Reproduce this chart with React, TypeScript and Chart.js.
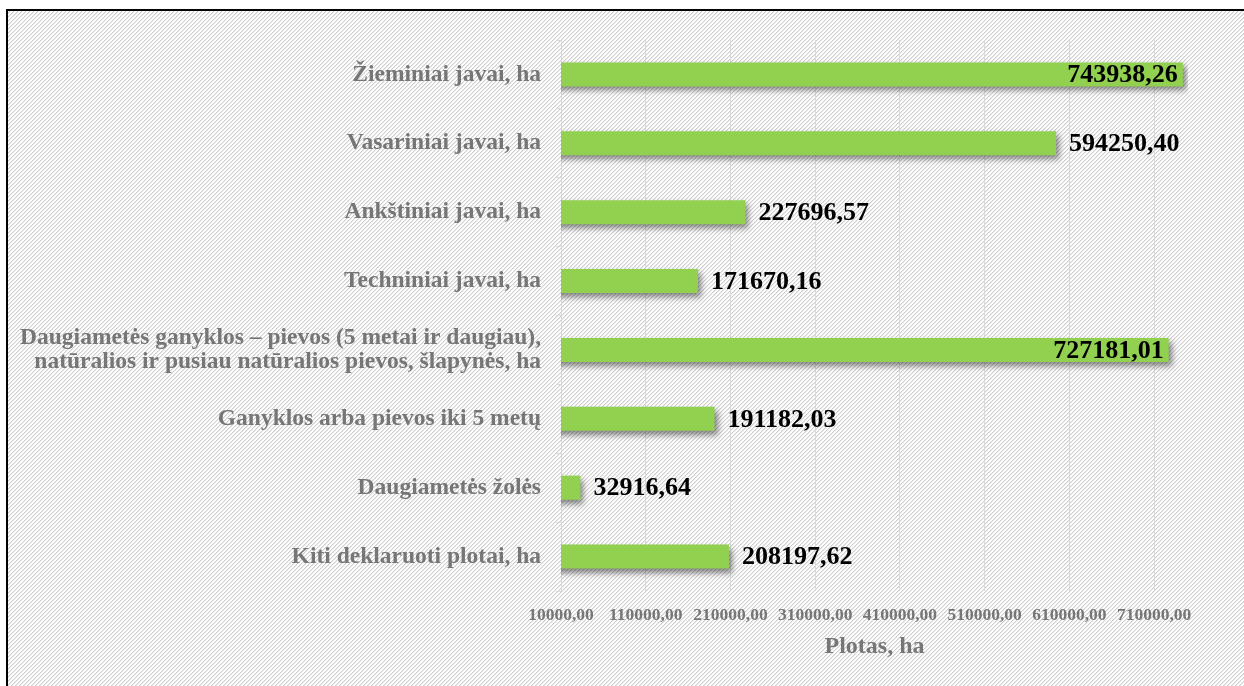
import React, { useEffect, useRef } from "react";
import { Chart, registerables } from "chart.js";

Chart.register(...registerables);

const categories: (string | string[])[] = [
  "Žieminiai javai, ha",
  "Vasariniai javai, ha",
  "Ankštiniai javai, ha",
  "Techniniai javai, ha",
  ["Daugiametės ganyklos – pievos (5 metai ir daugiau),", "natūralios ir pusiau natūralios pievos, šlapynės, ha"],
  "Ganyklos arba pievos iki 5 metų",
  "Daugiametės žolės",
  "Kiti deklaruoti plotai, ha",
];

const areaValues: number[] = [
  743938.26, 594250.4, 227696.57, 171670.16, 727181.01, 191182.03, 32916.64, 208197.62,
];

const tickValues: number[] = [10000, 110000, 210000, 310000, 410000, 510000, 610000, 710000];

const axisMin = 10000;
const axisMax = 750000;
const axisTitle = "Plotas, ha";

const fmt = (v: number) => v.toFixed(2).replace(".", ",");

const SERIF = '"Liberation Serif", "Times New Roman", serif';

const shadowAndLabels = {
  id: "shadowAndLabels",
  beforeDatasetsDraw(chart: any) {
    const ctx = chart.ctx;
    ctx.save();
    ctx.shadowColor = "rgba(0,0,0,0.45)";
    ctx.shadowBlur = 6;
    ctx.shadowOffsetX = 3;
    ctx.shadowOffsetY = 4;
  },
  afterDatasetsDraw(chart: any) {
    const ctx = chart.ctx;
    ctx.restore();
    const meta = chart.getDatasetMeta(0);
    const right = chart.chartArea.right;
    ctx.save();
    ctx.font = `bold 26px ${SERIF}`;
    ctx.fillStyle = "#000";
    ctx.textBaseline = "middle";
    meta.data.forEach((bar: any, i: number) => {
      const txt = fmt(areaValues[i]);
      const w = ctx.measureText(txt).width;
      if (bar.x + 13 + w > right) {
        ctx.textAlign = "right";
        ctx.fillText(txt, bar.x - 5, bar.y + 1);
      } else {
        ctx.textAlign = "left";
        ctx.fillText(txt, bar.x + 13, bar.y + 1);
      }
    });
    ctx.restore();
  },
};

export default function App() {
  const ref = useRef<HTMLCanvasElement | null>(null);
  const bgRef = useRef<HTMLCanvasElement | null>(null);

  useEffect(() => {
    const bg = bgRef.current;
    if (bg) {
      const tile = document.createElement("canvas");
      tile.width = 4;
      tile.height = 4;
      const tctx = tile.getContext("2d")!;
      tctx.fillStyle = "#ffffff";
      tctx.fillRect(0, 0, 4, 4);
      for (let x = 0; x < 4; x++) {
        for (let y = 0; y < 4; y++) {
          const k = (x + y) % 4;
          if (k === 0) {
            tctx.fillStyle = "#cdcdcd";
            tctx.fillRect(x, y, 1, 1);
          } else if (k === 1) {
            tctx.fillStyle = "#ebebeb";
            tctx.fillRect(x, y, 1, 1);
          }
        }
      }
      const bctx = bg.getContext("2d")!;
      bctx.fillStyle = "#ffffff";
      bctx.fillRect(0, 0, bg.width, bg.height);
      const pat = bctx.createPattern(tile, "repeat");
      if (pat) {
        bctx.fillStyle = pat;
        bctx.fillRect(8, 11, bg.width, bg.height);
      }
      bctx.fillStyle = "#000";
      bctx.fillRect(6, 9, bg.width, 2);
      bctx.fillRect(6, 9, 2, bg.height);
    }

    if (!ref.current) return;
    const chart = new Chart(ref.current, {
      type: "bar",
      data: {
        labels: categories,
        datasets: [
          {
            data: areaValues,
            backgroundColor: "#92d050",
            borderWidth: 0,
            barPercentage: 0.35,
            categoryPercentage: 1,
          },
        ],
      },
      options: {
        indexAxis: "y",
        animation: false,
        responsive: false,
        maintainAspectRatio: false,
        layout: { padding: { left: 0, top: 40, right: 56, bottom: 0 } },
        plugins: {
          legend: { display: false },
          tooltip: { enabled: false },
        },
        scales: {
          x: {
            min: axisMin,
            max: axisMax,
            afterBuildTicks: (scale: any) => {
              scale.ticks = tickValues.map((v) => ({ value: v }));
            },
            afterFit: (scale: any) => {
              scale.height = 95;
            },
            ticks: {
              autoSkip: false,
              maxRotation: 0,
              padding: 14,
              color: "#767676",
              font: { family: SERIF, size: 17.5, weight: "bold" },
              callback: (v: any) => fmt(Number(v)),
            },
            grid: { color: "#d9d9d9", drawTicks: false, lineWidth: 1 },
            border: { display: false },
            title: {
              display: true,
              text: axisTitle,
              color: "#767676",
              font: { family: SERIF, size: 24, weight: "bold" },
              padding: { top: 0, bottom: 25 },
            },
          },
          y: {
            afterFit: (scale: any) => {
              scale.width = 561;
            },
            ticks: {
              padding: 15,
              color: "#767676",
              font: { family: SERIF, size: 23.5, weight: "bold", lineHeight: 1.0 },
            },
            grid: {
              drawOnChartArea: false,
              drawTicks: true,
              tickLength: 5,
              color: "#d9d9d9",
            },
            border: { display: false },
          },
        },
      },
      plugins: [shadowAndLabels],
    });
    return () => chart.destroy();
  }, []);

  return (
    <div style={{ position: "fixed", left: 0, top: 0, width: 1244, height: 686, background: "#fff", overflow: "hidden" }}>
      <canvas ref={bgRef} width={1244} height={686} style={{ position: "absolute", left: 0, top: 0 }} />
      <canvas ref={ref} width={1244} height={686} style={{ position: "absolute", left: 0, top: 0 }} />
    </div>
  );
}
